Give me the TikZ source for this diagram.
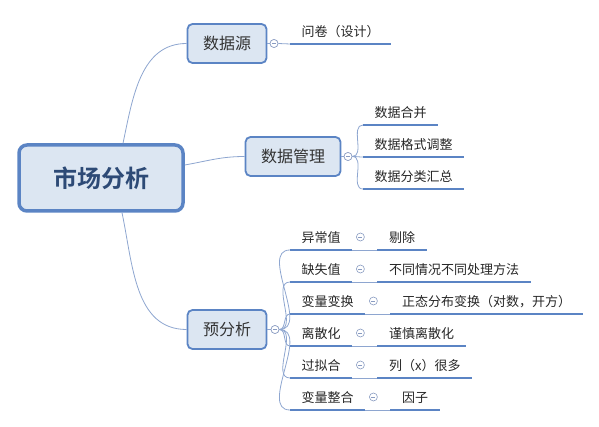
\documentclass[tikz,border=0pt]{standalone}
\usepackage{fontspec}
\setmainfont{Noto Sans CJK SC}[BoldFont={Noto Sans CJK SC Bold}]
\definecolor{mapline}{HTML}{5B84C4}
\definecolor{mapthin}{HTML}{8EA6D0}
\definecolor{mapfill}{HTML}{DCE6F2}
\definecolor{maptext}{HTML}{2D4A76}
\definecolor{mapfold}{HTML}{8A9CC2}

\begin{document}
\begin{tikzpicture}[x=1pt, y=-1pt,
    root/.style={draw=mapline, line width=3.5pt, fill=mapfill, rounded corners=8pt,
        minimum width=164pt, minimum height=66pt, font=\fontsize{24}{24}\selectfont\bfseries, text=maptext},
    topic/.style={draw=mapline, line width=1.8pt, fill=mapfill, rounded corners=5pt,
        inner xsep=15.5pt, minimum height=39pt, font=\fontsize{16}{16}\selectfont, text=black!80},
    leaf/.style={anchor=south west, inner xsep=11.5pt, inner ysep=7.5pt, text height=10pt,
        text depth=0pt, font=\fontsize{13}{13}\selectfont, text=black!85},
    uline/.style={draw=mapline, line width=2.5pt},
    link/.style={draw=mapthin, line width=0.8pt},
    fold/.style={circle, draw=mapfold, line width=0.6pt, minimum size=8pt, inner sep=0pt, fill=white,
        path picture={\draw[mapfold, line width=0.6pt] ([xshift=-2pt]path picture bounding box.center)
        -- ([xshift=2pt]path picture bounding box.center);}}]
                    \useasboundingbox (0,0) rectangle (599,427);

                    \node[root] (root) at (101,178) {市场分析};
                    \node[topic] (src) at (227,43.5) {数据源};
                    \node[topic] (mgmt) at (293,156.5) {数据管理};
                    \node[topic] (pre) at (227,329.5) {预分析};

                    \node[fold] (srcf) at (274,43.5) {};
                    \node[fold] (mgmtf) at (348,156.5) {};
                    \node[fold] (pref) at (275,329.5) {};

                    \node[leaf] (quest) at (290,44) {问卷（设计）};

                    \node[leaf] (merge) at (363,125) {数据合并};
                    \node[leaf] (format) at (363,157) {数据格式调整};
                    \node[leaf] (group) at (363,189) {数据分类汇总};

                    \node[leaf] (outl) at (290,250) {异常值};
                    \node[leaf] (miss) at (290,282) {缺失值};
                    \node[leaf] (trans) at (290,314) {变量变换};
                    \node[leaf] (disc) at (290,346) {离散化};
                    \node[leaf] (overf) at (290,378) {过拟合};
                    \node[leaf] (integ) at (290,410) {变量整合};

                    \node[leaf] (outlR) at ([xshift=25pt]outl.south east) {剔除};
                    \node[leaf] (missR) at ([xshift=25pt]miss.south east) {不同情况不同处理方法};
                    \node[leaf] (transR) at ([xshift=25pt]trans.south east) {正态分布变换（对数，开方）};
                    \node[leaf] (discR) at ([xshift=25pt]disc.south east) {谨慎离散化};
                    \node[leaf] (overfR) at ([xshift=25pt]overf.south east) {列（x）很多};
                    \node[leaf] (integR) at ([xshift=25pt]integ.south east) {因子};

                    % root to topics
                    \draw[link] ([xshift=22pt]root.north) to[out=78, in=180] (src.west);
                    \draw[link] ([yshift=13pt]root.east) to[out=10, in=180] (mgmt.west);
                    \draw[link] ([xshift=21pt]root.south) to[out=-78, in=180] (pre.west);

                    \draw[link] (src.east) -- (srcf.west);
                    \draw[link] (mgmt.east) -- (mgmtf.west);
                    \draw[link] (pre.east) -- (pref.west);

                    \draw[link] (srcf.east) -- (quest.south west);

                    \draw[link] (mgmtf.east) to[out=0, in=180] (merge.south west);
                    \draw[link] (mgmtf.east) to[out=0, in=180] (format.south west);
                    \draw[link] (mgmtf.east) to[out=0, in=180] (group.south west);

                    \draw[link] (pref.east) to[out=0, in=180] (outl.south west);
                    \draw[link] (pref.east) to[out=0, in=180] (miss.south west);
                    \draw[link] (pref.east) to[out=0, in=180] (trans.south west);
                    \draw[link] (pref.east) to[out=0, in=180] (disc.south west);
                    \draw[link] (pref.east) to[out=0, in=180] (overf.south west);
                    \draw[link] (pref.east) to[out=0, in=180] (integ.south west);

                    \draw[link] (outl.south east) -- (outlR.south west);
                    \draw[link] (miss.south east) -- (missR.south west);
                    \draw[link] (trans.south east) -- (transR.south west);
                    \draw[link] (disc.south east) -- (discR.south west);
                    \draw[link] (overf.south east) -- (overfR.south west);
                    \draw[link] (integ.south east) -- (integR.south west);

                    % underlines
                    \draw[uline] (quest.south west) -- (quest.south east);
                    \draw[uline] (merge.south west) -- (merge.south east);
                    \draw[uline] (format.south west) -- (format.south east);
                    \draw[uline] (group.south west) -- (group.south east);

                    \draw[uline] (outl.south west) -- (outl.south east);
                    \draw[uline] (miss.south west) -- (miss.south east);
                    \draw[uline] (trans.south west) -- (trans.south east);
                    \draw[uline] (disc.south west) -- (disc.south east);
                    \draw[uline] (overf.south west) -- (overf.south east);
                    \draw[uline] (integ.south west) -- (integ.south east);

                    \draw[uline] (outlR.south west) -- (outlR.south east);
                    \draw[uline] (missR.south west) -- (missR.south east);
                    \draw[uline] (transR.south west) -- (transR.south east);
                    \draw[uline] (discR.south west) -- (discR.south east);
                    \draw[uline] (overfR.south west) -- (overfR.south east);
                    \draw[uline] (integR.south west) -- (integR.south east);

                    % fold marks on the rows
                    \node[fold] at ([xshift=8pt, yshift=13pt]outl.south east) {};
                    \node[fold] at ([xshift=8pt, yshift=13pt]miss.south east) {};
                    \node[fold] at ([xshift=8pt, yshift=13pt]trans.south east) {};
                    \node[fold] at ([xshift=8pt, yshift=13pt]disc.south east) {};
                    \node[fold] at ([xshift=8pt, yshift=13pt]overf.south east) {};
                    \node[fold] at ([xshift=8pt, yshift=13pt]integ.south east) {};

                    \node[fold] at (srcf) {};
                    \node[fold] at (mgmtf) {};
                    \node[fold] at (pref) {};
                \end{tikzpicture}
\end{document}
